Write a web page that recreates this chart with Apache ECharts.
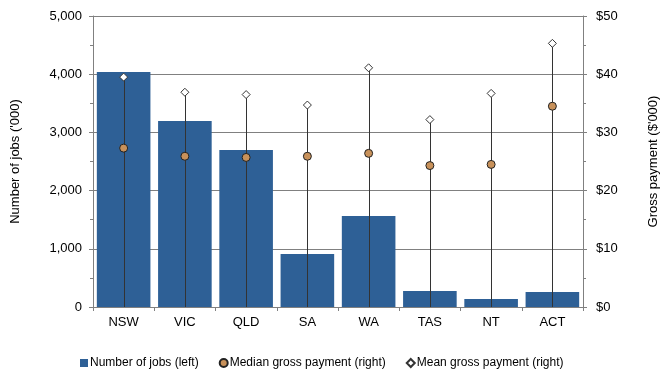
<!DOCTYPE html>
<html><head><meta charset="utf-8">
<script src="https://cdn.jsdelivr.net/npm/echarts@6/dist/echarts.min.js"></script>
<style>html,body{margin:0;padding:0;background:#fff}#c{width:668px;height:378px}</style>
</head><body><div id="c"></div>
<script>
var categories = ['NSW','VIC','QLD','SA','WA','TAS','NT','ACT'];
var jobs = [4038, 3196, 2698, 911, 1564, 275, 137, 258];
var median = [27.3, 25.9, 25.7, 25.9, 26.4, 24.3, 24.5, 34.5];
var mean = [39.5, 36.9, 36.5, 34.7, 41.1, 32.2, 36.7, 45.3];
var leftTicks = [0, 1000, 2000, 3000, 4000, 5000];
var rightTicks = [0, 10, 20, 30, 40, 50];

var font = 'Liberation Sans, Arial, sans-serif';
var chart = echarts.init(document.getElementById('c'));
chart.setOption({
  animation: false,
  textStyle: {fontFamily: font},
  grid: {left: 93, right: 81, top: 16, bottom: 71},
  legend: {
    left: 75, top: 352, itemWidth: 8, itemHeight: 8, itemGap: 20,
    textStyle: {fontFamily: font, fontSize: 12, color: '#000', padding: [0, 0, 0, -3]},
    data: [
      {name: 'Number of jobs (left)', icon: 'rect'},
      {name: 'Median gross payment (right)', icon: 'circle'},
      {name: 'Mean gross payment (right)', icon: 'diamond'}
    ]
  },
  xAxis: {
    type: 'category', data: categories,
    axisLine: {lineStyle: {color: '#808080'}},
    axisTick: {show: true, length: 4, lineStyle: {color: '#808080'}},
    axisLabel: {color: '#000', fontSize: 13, margin: 9}
  },
  yAxis: [{
    type: 'value', min: leftTicks[0], max: leftTicks[leftTicks.length-1], interval: 1000,
    name: "Number of jobs ('000)", nameLocation: 'middle', nameGap: 71,
    nameTextStyle: {fontSize: 13, color: '#000'},
    axisLine: {show: true, lineStyle: {color: '#808080'}},
    axisTick: {show: true, length: 4, lineStyle: {color: '#808080'}},
    minorTick: {show: true, splitNumber: 2, length: 3, lineStyle: {color: '#808080'}},
    splitLine: {lineStyle: {color: '#808080'}},
    axisLabel: {color: '#000', fontSize: 13, margin: 11,
      formatter: function(v){return v.toLocaleString('en-US');}}
  }, {
    type: 'value', min: rightTicks[0], max: rightTicks[rightTicks.length-1], interval: 10,
    name: "Gross payment ($'000)", nameLocation: 'middle', nameGap: 64,
    nameTextStyle: {fontSize: 13, color: '#000'},
    axisLine: {show: true, lineStyle: {color: '#808080'}},
    axisTick: {show: true, length: 4, lineStyle: {color: '#808080'}},
    minorTick: {show: true, splitNumber: 2, length: 3, lineStyle: {color: '#808080'}},
    splitLine: {show: false},
    axisLabel: {color: '#000', fontSize: 13, margin: 13,
      formatter: function(v){return '$' + v;}}
  }],
  series: [{
    name: 'Number of jobs (left)', type: 'bar', data: jobs,
    barWidth: '87.5%', itemStyle: {color: '#2E6096'}, z: 2
  }, {
    name: 'range', type: 'custom', yAxisIndex: 1, z: 3,
    data: mean.map(function(m, i){return [i, m];}),
    renderItem: function(params, api){
      var p0 = api.coord([api.value(0), 0]);
      var p1 = api.coord([api.value(0), api.value(1)]);
      return {type: 'line', shape: {x1: Math.round(p0[0])+0.5, y1: p0[1], x2: Math.round(p1[0])+0.5, y2: p1[1]},
        style: {stroke: '#333', lineWidth: 1}};
    }
  }, {
    name: 'Median gross payment (right)', type: 'scatter', yAxisIndex: 1, z: 4,
    data: median, symbol: 'circle', symbolSize: 8,
    itemStyle: {color: '#C8915A', borderColor: '#222', borderWidth: 1, opacity: 1}
  }, {
    name: 'Mean gross payment (right)', type: 'scatter', yAxisIndex: 1, z: 4,
    data: mean, symbol: 'diamond', symbolSize: 8,
    itemStyle: {color: '#fff', borderColor: '#333', borderWidth: 1, opacity: 1}
  }]
});
</script></body></html>
